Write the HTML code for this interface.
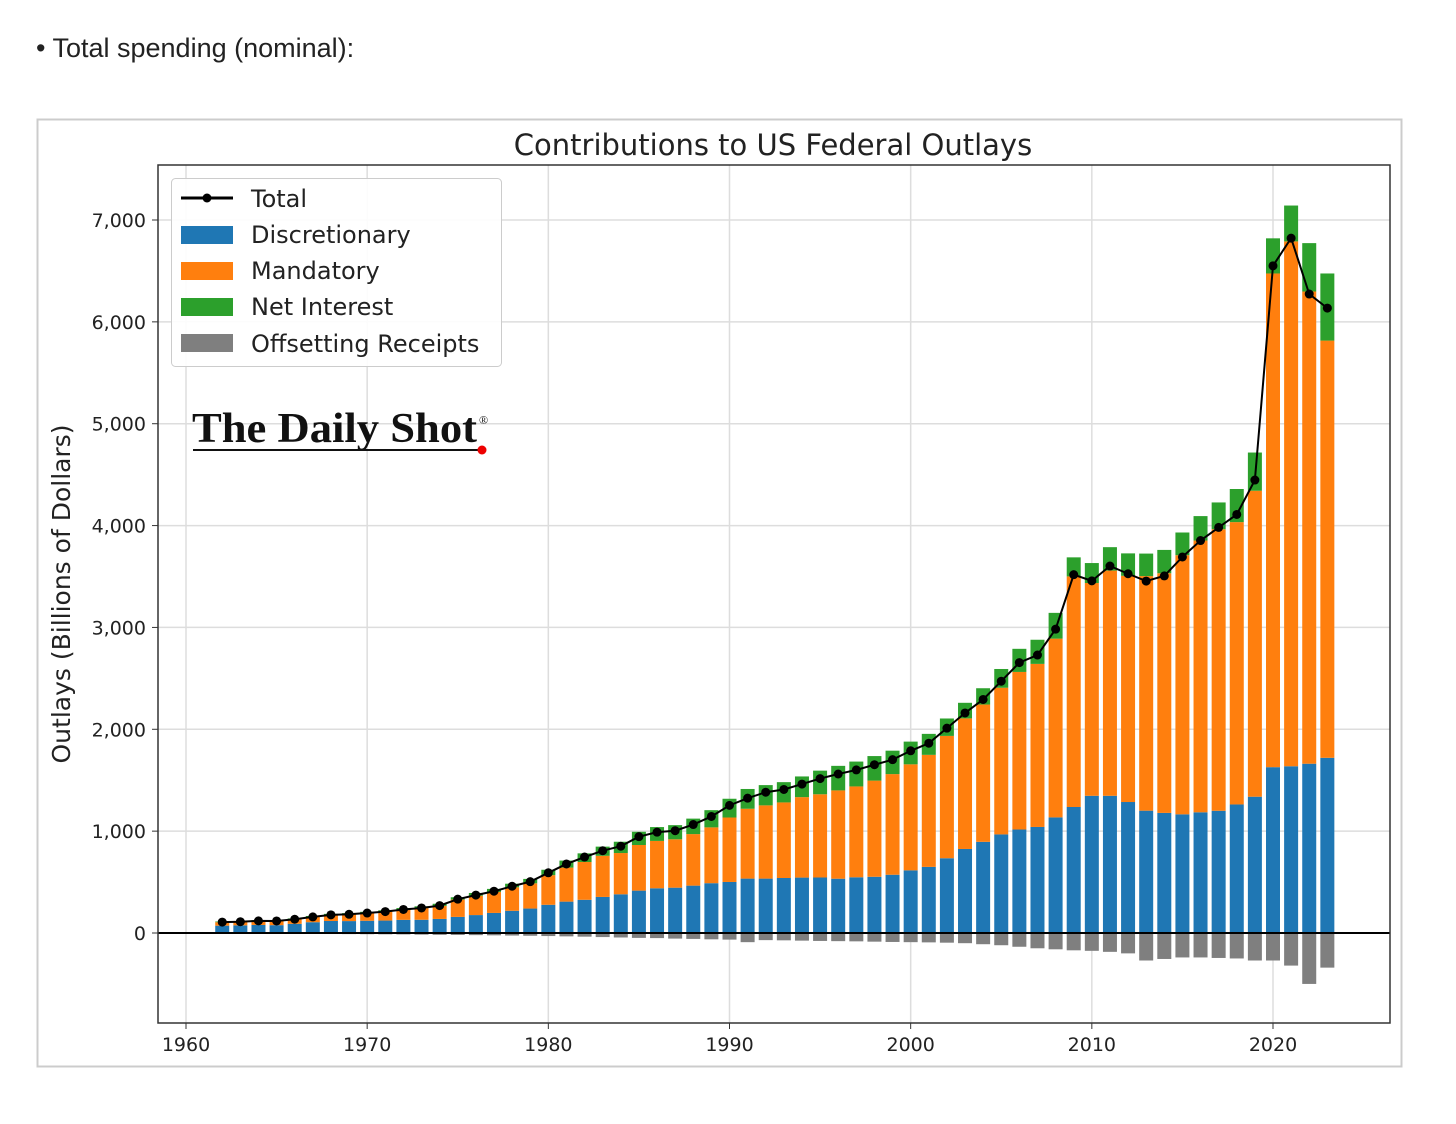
<!DOCTYPE html>
<html><head><meta charset="utf-8"><style>
body{margin:0;background:#fff;width:1456px;height:1119px;overflow:hidden;font-family:"Liberation Sans","DejaVu Sans",sans-serif}
</style></head><body>
<svg width="1456" height="1119" xmlns="http://www.w3.org/2000/svg">
<text x="36" y="57" font-size="27" fill="#222" font-family="Liberation Sans, sans-serif">• Total spending (nominal):</text>
<rect x="37.5" y="119.5" width="1364" height="947" fill="#fff" stroke="#ccc" stroke-width="2"/>
<text x="773" y="155" font-size="29" text-anchor="middle" fill="#222" font-family="DejaVu Sans, sans-serif">Contributions to US Federal Outlays</text>
<g id="grid"></g><g id="bars"></g><g id="line"></g><g id="axes"></g>
<text transform="translate(70,594) rotate(-90)" font-size="25" text-anchor="middle" fill="#222" font-family="DejaVu Sans, sans-serif">Outlays (Billions of Dollars)</text>
<g>
<rect x="171.5" y="178.5" width="330" height="188" rx="4" fill="#fff" fill-opacity="0.9" stroke="#ccc"/>
<line x1="181" y1="198" x2="233" y2="198" stroke="#000" stroke-width="3"/><circle cx="207" cy="198" r="4.5" fill="#000"/>
<text x="251" y="207" font-size="24" fill="#222" font-family="DejaVu Sans, sans-serif">Total</text>
<rect x="181" y="226" width="52" height="18" fill="#1f77b4"/><text x="251" y="243" font-size="24" fill="#222" font-family="DejaVu Sans, sans-serif">Discretionary</text>
<rect x="181" y="262" width="52" height="18" fill="#ff7f0e"/><text x="251" y="279" font-size="24" fill="#222" font-family="DejaVu Sans, sans-serif">Mandatory</text>
<rect x="181" y="298" width="52" height="18" fill="#2ca02c"/><text x="251" y="315" font-size="24" fill="#222" font-family="DejaVu Sans, sans-serif">Net Interest</text>
<rect x="181" y="334" width="52" height="18" fill="#7f7f7f"/><text x="251" y="352" font-size="24" fill="#222" font-family="DejaVu Sans, sans-serif">Offsetting Receipts</text>
</g>
<g>
<text x="192" y="442" font-size="42" font-weight="bold" fill="#111" font-family="Liberation Serif, serif" textLength="285" lengthAdjust="spacingAndGlyphs">The Daily Shot</text>
<text x="479" y="424" font-size="12" fill="#111" font-family="Liberation Serif, serif">®</text>
<line x1="193" y1="450" x2="480" y2="450" stroke="#111" stroke-width="2"/>
<circle cx="482" cy="450" r="4.5" fill="#e00"/>
</g>
</svg>
<script>
const years=[1962,1963,1964,1965,1966,1967,1968,1969,1970,1971,1972,1973,1974,1975,1976,1977,1978,1979,1980,1981,1982,1983,1984,1985,1986,1987,1988,1989,1990,1991,1992,1993,1994,1995,1996,1997,1998,1999,2000,2001,2002,2003,2004,2005,2006,2007,2008,2009,2010,2011,2012,2013,2014,2015,2016,2017,2018,2019,2020,2021,2022,2023];
const discretionary=[72,75,79,77,90,106,118,117,120,122,129,130,138,158,176,197,218,240,277,308,326,354,380,416,439,445,465,489,501,534,534,540,544,545,533,547,552,572,615,649,734,825,895,968,1016,1041,1135,1237,1347,1347,1286,1201,1179,1165,1185,1200,1262,1338,1628,1637,1662,1720];
const mandatory=[34,35,39,40,44,51,59,65,74,86,100,115,128,170,190,206,231,248,291,334,371,404,405,448,465,475,506,548,633,686,719,742,790,817,867,892,944,988,1041,1100,1201,1282,1348,1440,1547,1601,1755,2264,2089,2211,2221,2303,2353,2544,2668,2764,2772,3004,4847,5153,4636,4096];
const netInterest=[7,8,8,9,9,10,11,13,14,15,16,17,21,23,27,30,35,43,53,69,85,90,111,130,136,139,152,169,184,194,199,199,203,232,241,244,241,230,223,206,171,153,160,184,227,237,253,187,196,230,220,221,229,223,240,263,325,375,345,352,475,659];
const offsetting=[-6,-7,-7,-8,-8,-9,-10,-11,-12,-13,-14,-16,-18,-19,-21,-23,-25,-27,-30,-33,-36,-40,-44,-48,-50,-55,-58,-62,-65,-90,-70,-72,-75,-78,-80,-82,-85,-88,-90,-92,-95,-100,-110,-120,-135,-150,-160,-170,-175,-185,-200,-270,-255,-240,-240,-245,-250,-270,-270,-320,-500,-340];
const total=[107,111,119,118,135,158,178,184,196,210,231,246,269,332,372,410,459,504,591,678,746,808,852,946,990,1004,1065,1144,1253,1324,1382,1409,1462,1516,1561,1601,1652,1702,1789,1863,2011,2160,2293,2472,2655,2729,2983,3518,3457,3603,3527,3455,3506,3692,3853,3982,4109,4447,6550,6822,6273,6135];
const xTicks=[1960,1970,1980,1990,2000,2010,2020];
const yTicks=[0,1000,2000,3000,4000,5000,6000,7000];
const yTickLabels=["0","1,000","2,000","3,000","4,000","5,000","6,000","7,000"];
const NS="http://www.w3.org/2000/svg";
const L=158,R=1390,T=165,B=1023;
const x=v=>186+(v-1960)*(1273-186)/60;
const y=v=>933-v*(933-220)/7000;
const bw=14;
function mk(tag,at,parent){const e=document.createElementNS(NS,tag);for(const k in at)e.setAttribute(k,at[k]);document.getElementById(parent).appendChild(e);return e;}
xTicks.forEach(t=>{const g=mk('line',{x1:x(t),x2:x(t),y1:T,y2:B,stroke:'#ddd','stroke-width':1.5},'grid');

});
yTicks.forEach(t=>{const g=mk('line',{x1:L,x2:R,y1:y(t),y2:y(t),stroke:'#ddd','stroke-width':1.5},'grid');

});
years.forEach((yr,i)=>{const cx=x(yr)-bw/2;
const d=discretionary[i],m=mandatory[i],n=netInterest[i],o=offsetting[i];
let r=mk('rect',{x:cx,width:bw,y:y(d),height:y(0)-y(d),fill:'#1f77b4'},'bars');


r=mk('rect',{x:cx,width:bw,y:y(d+m),height:y(d)-y(d+m),fill:'#ff7f0e'},'bars');


r=mk('rect',{x:cx,width:bw,y:y(d+m+n),height:y(d+m)-y(d+m+n),fill:'#2ca02c'},'bars');


r=mk('rect',{x:cx,width:bw,y:y(0),height:y(o)-y(0),fill:'#7f7f7f'},'bars');

});
const pl=mk('polyline',{points:years.map((yr,i)=>x(yr)+','+y(total[i])).join(' '),fill:'none',stroke:'#000','stroke-width':2},'line');


years.forEach((yr,i)=>{const c=mk('circle',{cx:x(yr),cy:y(total[i]),r:4.5,fill:'#000'},'line');

});
const z=mk('line',{x1:L,x2:R,y1:y(0),y2:y(0),stroke:'#000','stroke-width':2},'axes');


const fr=mk('rect',{x:L,y:T,width:R-L,height:B-T,fill:'none',stroke:'#333','stroke-width':1.5},'axes');


xTicks.forEach(t=>{mk('line',{x1:x(t),x2:x(t),y1:B,y2:B+6,stroke:'#333'},'axes');
const tx=mk('text',{x:x(t),y:B+28,'font-size':19,'text-anchor':'middle',fill:'#222','font-family':'DejaVu Sans, sans-serif'},'axes');
tx.textContent=t;

});
yTicks.forEach((t,i)=>{mk('line',{x1:L-6,x2:L,y1:y(t),y2:y(t),stroke:'#333'},'axes');
const tx=mk('text',{x:L-12,y:y(t)+7,'font-size':19,'text-anchor':'end',fill:'#222','font-family':'DejaVu Sans, sans-serif'},'axes');
tx.textContent=yTickLabels[i];

});
</script>
</body></html>
